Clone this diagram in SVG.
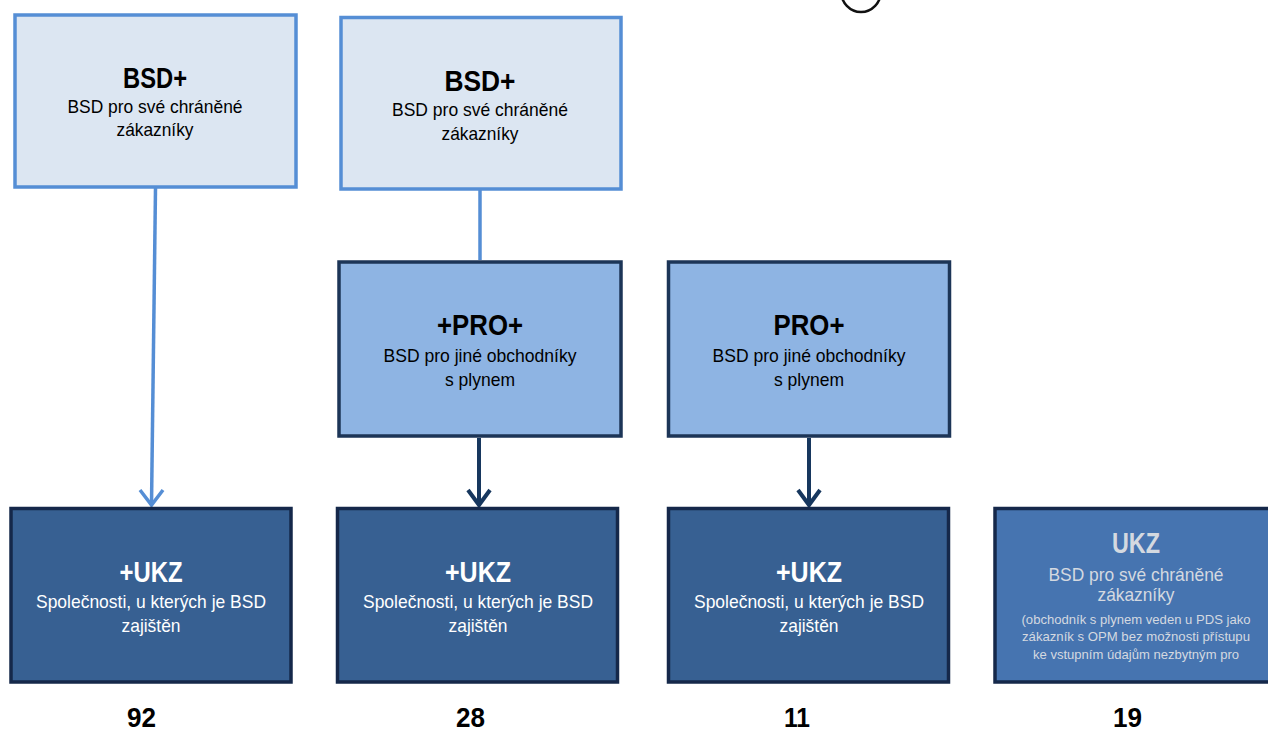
<svg xmlns="http://www.w3.org/2000/svg" width="1268" height="731" viewBox="0 0 1268 731">
<style>
.top{fill:#dce6f2;stroke:#558ed5;stroke-width:3.5}
.mid{fill:#8eb4e3;stroke:#1c3557;stroke-width:3.5}
.bot{fill:#376092;stroke:#15284a;stroke-width:3.5}
.bot2{fill:#4674b0;stroke:#15284a;stroke-width:3.5}
text{font-family:"Liberation Sans",Arial,sans-serif;text-anchor:middle}
.t{font-weight:bold;font-size:29.5px}
.s{font-size:18.5px}
.k{fill:#000}
.w{fill:#fff}
.g{fill:#d4d9e0}
.sm{font-size:13.5px}
.n{font-weight:bold;font-size:28px;fill:#000;text-anchor:start}
.la{stroke:#558ed5;stroke-width:3.5;fill:none}
.da{stroke:#17375e;stroke-width:4;fill:none}
</style>
<ellipse cx="861" cy="-9" rx="20" ry="21" fill="none" stroke="#111" stroke-width="2.5"/>
<g id="connectors">
<line class="la" x1="155.5" y1="188" x2="151.5" y2="505"/>
<polyline class="la" points="140,490 151.5,505 163,490"/>
<line class="la" x1="480" y1="190" x2="480" y2="260"/>
<line class="da" x1="479" y1="438" x2="479" y2="505"/>
<polyline class="da" points="468,490 479,505 490,490"/>
<line class="da" x1="809" y1="438" x2="809" y2="505"/>
<polyline class="da" points="798,490 809,505 820,490"/>
</g>
<g id="n1">
<rect class="top" x="15" y="15" width="281" height="172"/>
<text class="t k" x="155" y="88" textLength="64" lengthAdjust="spacingAndGlyphs">BSD+</text>
<text class="s k" x="155" y="113" textLength="175" lengthAdjust="spacingAndGlyphs">BSD pro své chráněné</text>
<text class="s k" x="155" y="136" textLength="77" lengthAdjust="spacingAndGlyphs">zákazníky</text>
</g>
<g id="n2">
<rect class="top" x="341" y="17.5" width="280" height="171.5"/>
<text class="t k" x="480" y="91" textLength="71" lengthAdjust="spacingAndGlyphs">BSD+</text>
<text class="s k" x="480" y="116" textLength="176" lengthAdjust="spacingAndGlyphs">BSD pro své chráněné</text>
<text class="s k" x="480" y="140" textLength="77" lengthAdjust="spacingAndGlyphs">zákazníky</text>
</g>
<g id="n3">
<rect class="mid" x="339" y="262" width="282" height="174"/>
<text class="t k" x="480" y="335" textLength="86" lengthAdjust="spacingAndGlyphs">+PRO+</text>
<text class="s k" x="480" y="362" textLength="193" lengthAdjust="spacingAndGlyphs">BSD pro jiné obchodníky</text>
<text class="s k" x="480" y="386" textLength="70" lengthAdjust="spacingAndGlyphs">s plynem</text>
</g>
<g id="n4">
<rect class="mid" x="668.5" y="262" width="281" height="174"/>
<text class="t k" x="809" y="335" textLength="71" lengthAdjust="spacingAndGlyphs">PRO+</text>
<text class="s k" x="809" y="362" textLength="193" lengthAdjust="spacingAndGlyphs">BSD pro jiné obchodníky</text>
<text class="s k" x="809" y="386" textLength="70" lengthAdjust="spacingAndGlyphs">s plynem</text>
</g>
<g id="n5">
<rect class="bot" x="11" y="508.5" width="280" height="173.5"/>
<text class="t w" x="151" y="582" textLength="63" lengthAdjust="spacingAndGlyphs">+UKZ</text>
<text class="s w" x="151" y="608" textLength="230" lengthAdjust="spacingAndGlyphs">Společnosti, u kterých je BSD</text>
<text class="s w" x="151" y="632" textLength="59" lengthAdjust="spacingAndGlyphs">zajištěn</text>
</g>
<g id="n6">
<rect class="bot" x="337.5" y="508.5" width="280" height="173.5"/>
<text class="t w" x="478" y="582" textLength="66" lengthAdjust="spacingAndGlyphs">+UKZ</text>
<text class="s w" x="478" y="608" textLength="230" lengthAdjust="spacingAndGlyphs">Společnosti, u kterých je BSD</text>
<text class="s w" x="478" y="632" textLength="59" lengthAdjust="spacingAndGlyphs">zajištěn</text>
</g>
<g id="n7">
<rect class="bot" x="668.5" y="508.5" width="280" height="173.5"/>
<text class="t w" x="809" y="582" textLength="66" lengthAdjust="spacingAndGlyphs">+UKZ</text>
<text class="s w" x="809" y="608" textLength="230" lengthAdjust="spacingAndGlyphs">Společnosti, u kterých je BSD</text>
<text class="s w" x="809" y="632" textLength="59" lengthAdjust="spacingAndGlyphs">zajištěn</text>
</g>
<g id="n8">
<rect class="bot2" x="995" y="508.5" width="283" height="173.5"/>
<text class="t g" x="1136" y="553" textLength="48" lengthAdjust="spacingAndGlyphs">UKZ</text>
<text class="s g" x="1136" y="581" textLength="175" lengthAdjust="spacingAndGlyphs">BSD pro své chráněné</text>
<text class="s g" x="1136" y="601" textLength="77" lengthAdjust="spacingAndGlyphs">zákazníky</text>
<text class="sm g" x="1136" y="624" textLength="229" lengthAdjust="spacingAndGlyphs">(obchodník s plynem veden u PDS jako</text>
<text class="sm g" x="1136" y="641" textLength="228" lengthAdjust="spacingAndGlyphs">zákazník s OPM bez možnosti přístupu</text>
<text class="sm g" x="1136" y="659" textLength="206" lengthAdjust="spacingAndGlyphs">ke vstupním údajům nezbytným pro</text>
</g>
<g id="numbers">
<text class="n" x="127" y="727" textLength="29" lengthAdjust="spacingAndGlyphs">92</text>
<text class="n" x="456" y="727" textLength="29" lengthAdjust="spacingAndGlyphs">28</text>
<text class="n" x="784" y="727" textLength="26" lengthAdjust="spacingAndGlyphs">11</text>
<text class="n" x="1113" y="727" textLength="29" lengthAdjust="spacingAndGlyphs">19</text>
</g>
</svg>
